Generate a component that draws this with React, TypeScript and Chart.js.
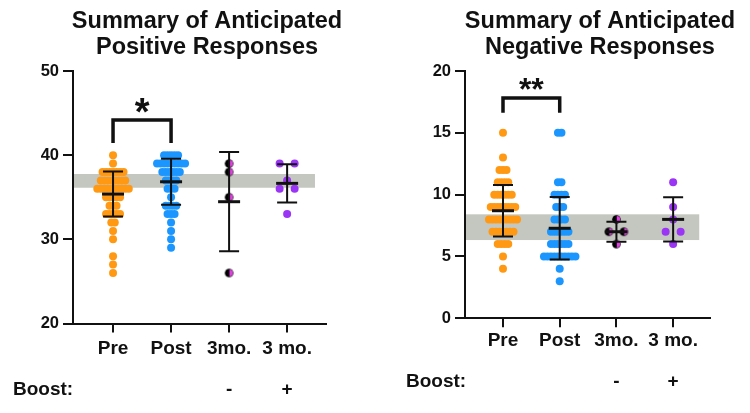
import React, { useEffect, useRef } from "react";
import { Chart, registerables } from "chart.js";

Chart.register(...registerables);

// ---------------- DATA ----------------
const CATEGORIES = ["Pre", "Post", "3mo.", "3 mo."];
const BOOST_LABELS = ["", "", "-", "+"];

const POS_TITLE = ["Summary of Anticipated", "Positive Responses"];
const POS_PRE = [40, 39, 38, 38, 38, 38, 38, 38, 38, 37, 37, 37, 37, 37, 37, 37, 37, 36, 36, 36, 36, 36, 36, 36, 36, 36, 36, 35, 35, 35, 35, 35, 34, 34, 34, 33, 33, 33, 33, 33, 32, 32, 31, 30, 28, 27, 26];
const POS_POST = [40, 40, 40, 40, 40, 39, 39, 39, 39, 39, 39, 39, 39, 39, 38, 38, 38, 38, 38, 38, 37, 37, 37, 37, 36, 36, 36, 35, 34, 34, 34, 34, 33, 33, 33, 32, 31, 30, 29];
const POS_3MO_NOBOOST = [39, 38, 35, 26];
const POS_3MO_BOOST = [39, 39, 37, 36, 36, 33];
const POS_MEANS = [35.38, 36.84, 34.47, 36.65];
const POS_SDS = [2.67, 2.73, 5.9, 2.27];
const POS_BAND = [36.13, 37.76];
const POS_BRACKET = [44.17, 41.44];
const POS_STARS = "*";
const POS_Y_TICKS = [20, 50, 10];

const NEG_TITLE = ["Summary of Anticipated", "Negative Responses"];
const NEG_PRE = [15, 13, 12, 12, 12, 11, 11, 11, 11, 10, 10, 10, 10, 10, 10, 9, 9, 9, 9, 9, 9, 9, 9, 8, 8, 8, 8, 8, 8, 8, 8, 8, 7, 7, 7, 7, 7, 7, 7, 6, 6, 6, 6, 5, 4];
const NEG_POST = [15, 15, 11, 11, 10, 10, 10, 10, 9, 9, 9, 8, 8, 8, 8, 7, 7, 7, 7, 7, 7, 6, 6, 6, 6, 6, 6, 5, 5, 5, 5, 5, 5, 5, 5, 5, 5, 4, 3];
const NEG_3MO_NOBOOST = [8, 7, 7, 6];
const NEG_3MO_BOOST = [11, 9, 8, 7, 7, 6];
const NEG_MEANS = [8.7, 7.28, 7.0, 8.0];
const NEG_SDS = [2.09, 2.53, 0.81, 1.78];
const NEG_BAND = [6.33, 8.41];
const NEG_BRACKET = [17.82, 16.63];
const NEG_STARS = "**";
const NEG_Y_TICKS = [0, 20, 5];

// ---------------- STYLE ----------------
const FONT = '"Liberation Sans", Arial, Helvetica, sans-serif';
const INK = "#111111";
const ORANGE = "#FF9914";
const BLUE = "#1C96FF";
const PURPLE = "#9B35F5";
const MAGENTA = "#E040E0";
const BAND_COLOR = "#C4C7BF";
const DOT_R = 4;
const HALF_DOT_R = 4.3;
const DOT_STEP_PX = 3.5;
const PAIR_STEP_PX = 15;

type Layout = {
  canvasLeft: number;
  yAxisWidth: number;
  xAxisHeight: number;
  padTop: number;
  padRight: number;
  xMin: number;
  xMax: number;
  bandEnd: number;
  titleX: number;
  boostX: number;
  boostY: number;
  xLabelPad: number;
  starSize: number;
};

const POS_LAYOUT: Layout = {
  canvasLeft: 0, yAxisWidth: 73, xAxisHeight: 89.5, padTop: 71, padRight: 49,
  xMin: -0.69, xMax: 3.67, bandEnd: 3.48, titleX: 207, boostX: 13, boostY: 390,
  xLabelPad: 5, starSize: 38,
};
const NEG_LAYOUT: Layout = {
  canvasLeft: 375, yAxisWidth: 90, xAxisHeight: 94.7, padTop: 71, padRight: 40,
  xMin: -0.67, xMax: 3.65, bandEnd: 3.46, titleX: 225, boostX: 31, boostY: 382,
  xLabelPad: 2, starSize: 32,
};

function swarm(values: number[], cat: number, stepUnits: number) {
  const counts = new Map<number, number>();
  values.forEach((v) => counts.set(v, (counts.get(v) || 0) + 1));
  const seen = new Map<number, number>();
  return values.map((v) => {
    const n = counts.get(v) || 1;
    const k = seen.get(v) || 0;
    seen.set(v, k + 1);
    return { x: cat + (k - (n - 1) / 2) * stepUnits, y: v };
  });
}

function makeHalfDot(r: number) {
  const c = document.createElement("canvas");
  const s = Math.ceil(r * 2) + 2;
  c.width = s;
  c.height = s;
  const g = c.getContext("2d")!;
  const cx = s / 2;
  g.fillStyle = "#000";
  g.beginPath();
  g.arc(cx, cx, r, 0, Math.PI * 2);
  g.fill();
  g.fillStyle = MAGENTA;
  g.beginPath();
  g.arc(cx + 0.3, cx, r * 0.8, -Math.PI / 2, Math.PI / 2);
  g.closePath();
  g.fill();
  return c;
}

type Spec = {
  title: string[];
  groups: number[][];
  means: number[];
  sds: number[];
  band: number[];
  bracket: number[];
  stars: string;
  yTicks: number[];
  layout: Layout;
};

function buildChart(canvas: HTMLCanvasElement, spec: Spec) {
  const L = spec.layout;
  const plotW = 375 - L.yAxisWidth - L.padRight;
  const pxPerUnit = plotW / (L.xMax - L.xMin);
  const dotStep = DOT_STEP_PX / pxPerUnit;
  const pairStep = PAIR_STEP_PX / pxPerUnit;
  const half = makeHalfDot(HALF_DOT_R);
  const colors = [ORANGE, BLUE, "half", PURPLE];

  const datasets = spec.groups.map((vals, i) => {
    const isHalf = colors[i] === "half";
    return {
      data: swarm(vals, i, i < 2 ? dotStep : pairStep),
      pointRadius: DOT_R,
      pointHoverRadius: DOT_R,
      pointBorderWidth: 0,
      pointBackgroundColor: isHalf ? "#000" : colors[i],
      pointStyle: isHalf ? (half as any) : "circle",
      showLine: false,
    };
  });

  const decor = {
    id: "decor",
    beforeDatasetsDraw(chart: any) {
      const { ctx, chartArea, scales } = chart;
      const x = scales.x, y = scales.y;
      const yTop = y.getPixelForValue(spec.band[1]);
      const yBot = y.getPixelForValue(spec.band[0]);
      const xR = x.getPixelForValue(L.bandEnd);
      ctx.save();
      ctx.fillStyle = BAND_COLOR;
      ctx.fillRect(chartArea.left + 1, yTop, xR - chartArea.left - 1, yBot - yTop);
      ctx.restore();
    },
    afterDatasetsDraw(chart: any) {
      const { ctx, scales } = chart;
      const x = scales.x, y = scales.y;
      ctx.save();
      ctx.strokeStyle = INK;
      ctx.lineCap = "butt";
      spec.means.forEach((m, i) => {
        const cx = x.getPixelForValue(i);
        const yHi = y.getPixelForValue(m + spec.sds[i]);
        const yLo = y.getPixelForValue(m - spec.sds[i]);
        const yM = y.getPixelForValue(m);
        ctx.lineWidth = 2;
        ctx.beginPath();
        ctx.moveTo(cx, yHi);
        ctx.lineTo(cx, yLo);
        ctx.moveTo(cx - 10, yHi);
        ctx.lineTo(cx + 10, yHi);
        ctx.moveTo(cx - 10, yLo);
        ctx.lineTo(cx + 10, yLo);
        ctx.stroke();
        ctx.lineWidth = 3;
        ctx.beginPath();
        ctx.moveTo(cx - 11, yM);
        ctx.lineTo(cx + 11, yM);
        ctx.stroke();
      });
      // significance bracket
      const x0 = x.getPixelForValue(0);
      const x1 = x.getPixelForValue(1);
      const bt = y.getPixelForValue(spec.bracket[0]);
      const bb = y.getPixelForValue(spec.bracket[1]);
      ctx.lineWidth = 3.5;
      ctx.lineJoin = "miter";
      ctx.beginPath();
      ctx.moveTo(x0, bb);
      ctx.lineTo(x0, bt);
      ctx.lineTo(x1, bt);
      ctx.lineTo(x1, bb);
      ctx.stroke();
      ctx.fillStyle = INK;
      ctx.font = `bold ${L.starSize}px ${FONT}`;
      ctx.textAlign = "center";
      ctx.textBaseline = "alphabetic";
      const starCenter = bt - 17;
      ctx.fillText(spec.stars, (x0 + x1) / 2, starCenter + 0.585 * L.starSize);
      ctx.restore();
    },
    afterDraw(chart: any) {
      const { ctx, scales } = chart;
      const x = scales.x;
      ctx.save();
      ctx.fillStyle = INK;
      ctx.textBaseline = "middle";
      ctx.textAlign = "center";
      ctx.font = `bold 23.5px ${FONT}`;
      ctx.fillText(spec.title[0], L.titleX, 22);
      ctx.fillText(spec.title[1], L.titleX, 48);
      ctx.font = `bold 19px ${FONT}`;
      ctx.textAlign = "left";
      ctx.fillText("Boost:", L.boostX, L.boostY);
      ctx.textAlign = "center";
      BOOST_LABELS.forEach((b, i) => {
        if (b) ctx.fillText(b, x.getPixelForValue(i), L.boostY);
      });
      ctx.restore();
    },
  };

  return new Chart(canvas, {
    type: "scatter",
    data: { datasets: datasets as any },
    options: {
      animation: false,
      responsive: false,
      devicePixelRatio: 1,
      layout: { padding: { top: L.padTop, right: L.padRight, left: 0, bottom: 0 } },
      plugins: { legend: { display: false }, tooltip: { enabled: false }, title: { display: false } },
      events: [],
      scales: {
        x: {
          type: "linear",
          min: L.xMin,
          max: L.xMax,
          afterBuildTicks: (s: any) => {
            s.ticks = CATEGORIES.map((_, i) => ({ value: i }));
          },
          afterFit: (s: any) => {
            s.height = L.xAxisHeight;
          },
          ticks: {
            autoSkip: false,
            maxRotation: 0,
            padding: L.xLabelPad,
            color: INK,
            font: { family: FONT, size: 19, weight: "bold" },
            callback: (v: any) => CATEGORIES[Math.round(Number(v))] ?? "",
          },
          grid: { drawOnChartArea: false, drawTicks: true, tickLength: 9, color: INK, lineWidth: 2 },
          border: { display: true, color: INK, width: 2 },
        },
        y: {
          type: "linear",
          min: spec.yTicks[0],
          max: spec.yTicks[1],
          afterFit: (s: any) => {
            s.width = L.yAxisWidth;
          },
          ticks: {
            stepSize: spec.yTicks[2],
            padding: 4,
            color: INK,
            font: { family: FONT, size: 16.5, weight: "bold" },
          },
          grid: { drawOnChartArea: false, drawTicks: true, tickLength: 10, color: INK, lineWidth: 2 },
          border: { display: true, color: INK, width: 2 },
        },
      },
    } as any,
    plugins: [decor],
  });
}

function Panel({ spec }: { spec: Spec }) {
  const ref = useRef<HTMLCanvasElement | null>(null);
  useEffect(() => {
    if (!ref.current) return;
    const chart = buildChart(ref.current, spec);
    return () => chart.destroy();
  }, [spec]);
  return (
    <canvas
      ref={ref}
      width={375}
      height={413}
      style={{ position: "absolute", left: spec.layout.canvasLeft, top: 0, width: 375, height: 413 }}
    />
  );
}

const POS_SPEC: Spec = {
  title: POS_TITLE,
  groups: [POS_PRE, POS_POST, POS_3MO_NOBOOST, POS_3MO_BOOST],
  means: POS_MEANS,
  sds: POS_SDS,
  band: POS_BAND,
  bracket: POS_BRACKET,
  stars: POS_STARS,
  yTicks: POS_Y_TICKS,
  layout: POS_LAYOUT,
};
const NEG_SPEC: Spec = {
  title: NEG_TITLE,
  groups: [NEG_PRE, NEG_POST, NEG_3MO_NOBOOST, NEG_3MO_BOOST],
  means: NEG_MEANS,
  sds: NEG_SDS,
  band: NEG_BAND,
  bracket: NEG_BRACKET,
  stars: NEG_STARS,
  yTicks: NEG_Y_TICKS,
  layout: NEG_LAYOUT,
};

export default function App() {
  return (
    <div style={{ position: "absolute", left: 0, top: 0, width: 750, height: 413, background: "#fff", overflow: "hidden" }}>
      <Panel spec={POS_SPEC} />
      <Panel spec={NEG_SPEC} />
    </div>
  );
}
